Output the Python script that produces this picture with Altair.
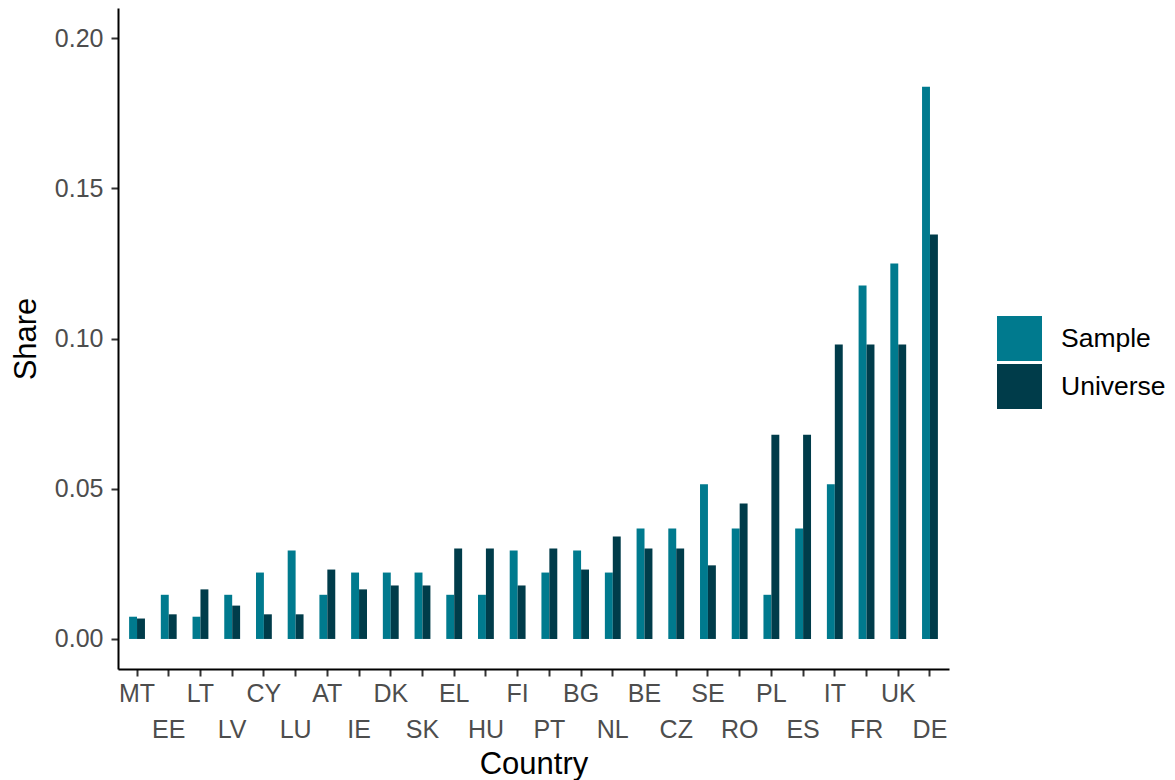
import altair as alt
import pandas as pd

countries = ["MT", "EE", "LT", "LV", "CY", "LU", "AT", "IE", "DK", "SK", "EL", "HU", "FI",
             "PT", "BG", "NL", "BE", "CZ", "SE", "RO", "PL", "ES", "IT", "FR", "UK", "DE"]
sample = [0.0074, 0.0147, 0.0074, 0.0147, 0.0221, 0.0294, 0.0147, 0.0221, 0.0221, 0.0221,
          0.0147, 0.0147, 0.0294, 0.0221, 0.0294, 0.0221, 0.0368, 0.0368, 0.0515, 0.0368,
          0.0147, 0.0368, 0.0515, 0.1176, 0.1250, 0.1838]
universe = [0.0068, 0.0082, 0.0165, 0.0111, 0.0082, 0.0082, 0.0231, 0.0165, 0.0178, 0.0178,
            0.0301, 0.0301, 0.0178, 0.0301, 0.0231, 0.0341, 0.0301, 0.0301, 0.0245, 0.0451,
            0.0680, 0.0680, 0.0980, 0.0980, 0.0980, 0.1346]
series = ["Sample", "Universe"]
colors = ["#007A8E", "#003C4A"]
y_ticks = [0.0, 0.05, 0.10, 0.15, 0.20]
second_row = countries[1::2]

df = pd.DataFrame({
    "Country": countries * 2,
    "Series": [series[0]] * len(countries) + [series[1]] * len(countries),
    "Share": sample + universe,
})

FONT = "Liberation Sans"
W, H = 831, 661
SVG_H = 772

row_list = "[" + ",".join("'%s'" % c for c in second_row) + "]"

chart = alt.Chart(df).mark_bar().encode(
    x=alt.X("Country:N", sort=countries,
            scale=alt.Scale(paddingInner=0.5, paddingOuter=0.35),
            axis=alt.Axis(
                title="Country", titleFontSize=31, titleColor="black", titleFontWeight="normal",
                titleX=W / 2, titleY=104, titleBaseline="alphabetic", titleAlign="center",
                labelFontSize=25, labelColor="#4D4D4D", labelAngle=0, labelPadding=5,
                labelLineHeight=36, labelOverlap=False, labelBound=False,
                labelExpr="indexof(%s, datum.value) >= 0 ? ['', datum.label] : datum.label" % row_list,
                tickSize=7, tickWidth=2, tickColor="#333333",
                domainColor="black", domainWidth=2, grid=False)),
    xOffset=alt.XOffset("Series:N", sort=series,
                        scale=alt.Scale(paddingInner=0, paddingOuter=0)),
    y=alt.Y("Share:Q", stack=None,
            scale=alt.Scale(domain=[-0.01, 0.21], nice=False),
            axis=alt.Axis(
                title="Share", titleFontSize=31, titleColor="black", titleFontWeight="normal",
                titleAngle=270, titleX=-92, titleY=H / 2, titleBaseline="middle", titleAlign="center",
                values=y_ticks, format=".2f",
                labelFontSize=25, labelColor="#4D4D4D", labelPadding=8,
                tickSize=7, tickWidth=2, tickColor="#333333",
                domainColor="black", domainWidth=2, grid=False)),
    color=alt.Color("Series:N", scale=alt.Scale(domain=series, range=colors),
                    legend=alt.Legend(title=None, orient="none", legendX=879, legendY=308,
                                      symbolType="square", symbolSize=2025, symbolStrokeWidth=0,
                                      symbolOpacity=1, rowPadding=3, labelFontSize=26.5,
                                      labelColor="black", labelOffset=19, padding=0)),
).properties(
    width=W, height=H,
    autosize=alt.AutoSizeParams(type="none"),
    padding={"left": 110, "top": 0, "right": 217, "bottom": SVG_H - H},
).configure(font=FONT).configure_view(stroke=None)

chart.save("out.html", embed_options={"renderer": "svg", "actions": False})
